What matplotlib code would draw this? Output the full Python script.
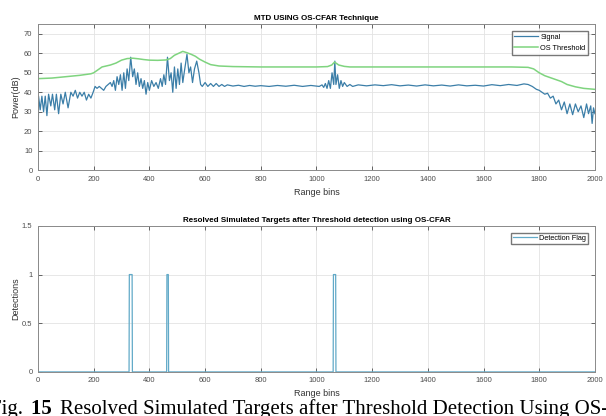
import numpy as np
import matplotlib.pyplot as plt

# (range bin, power dB) samples of the MTD output
signal_pts = [
    (0, 0), (2, 38), (8, 31), (14, 38), (20, 30), (26, 38), (32, 28), (38, 39),
    (46, 33), (52, 39), (60, 31), (66, 39), (74, 29), (82, 39), (90, 34), (98, 40),
    (108, 32), (118, 40), (126, 38), (134, 41), (142, 37), (150, 40), (158, 38),
    (166, 40), (174, 36), (182, 39), (190, 37), (198, 40), (205, 43), (212, 42),
    (220, 43), (228, 42), (236, 41), (244, 43), (252, 44), (260, 45), (266, 43),
    (272, 46), (278, 41), (284, 48), (290, 44), (296, 49), (302, 41), (308, 50),
    (314, 42), (320, 52), (326, 46), (333, 58), (340, 48), (346, 52), (352, 44),
    (358, 50), (364, 43), (370, 47), (376, 42), (382, 46), (388, 39), (394, 45),
    (400, 41), (408, 46), (416, 43), (424, 45), (432, 42), (440, 47), (446, 43),
    (452, 49), (458, 44), (465, 58), (472, 46), (478, 50), (484, 40), (490, 53),
    (496, 42), (502, 52), (508, 44), (514, 55), (520, 45), (526, 51), (535, 59.5),
    (542, 50), (548, 53), (555, 45), (562, 52), (570, 56), (578, 50), (584, 44),
    (590, 43), (600, 45), (610, 43), (620, 44.5), (630, 43), (640, 44.5), (650, 43),
    (660, 44), (670, 43), (680, 43.8), (700, 43.2), (720, 43.6), (740, 43),
    (760, 43.5), (780, 43.1), (800, 43.4), (830, 43), (860, 43.5), (890, 43.1),
    (920, 43.6), (950, 43), (980, 43.5), (1000, 43.2), (1010, 43), (1020, 43.8),
    (1026, 42.5), (1032, 44.5), (1038, 42), (1044, 46), (1050, 42), (1056, 50),
    (1062, 44), (1066, 56), (1070, 44), (1076, 49), (1082, 42), (1088, 46),
    (1094, 43), (1100, 45), (1110, 43), (1120, 44), (1130, 43), (1150, 43.8),
    (1180, 43.3), (1210, 43.8), (1240, 43.4), (1270, 43.9), (1300, 43.3),
    (1330, 43.7), (1360, 43.2), (1390, 43.8), (1420, 43.3), (1450, 43.7),
    (1480, 43.2), (1510, 43.8), (1540, 43.3), (1570, 43.6), (1600, 43.2),
    (1630, 43.9), (1660, 43.4), (1690, 44), (1720, 43.5), (1745, 44.3), (1760, 44),
    (1775, 43), (1790, 41.5), (1800, 41), (1810, 40), (1820, 39), (1830, 39.5),
    (1840, 37), (1850, 38), (1860, 34), (1870, 36), (1880, 31), (1890, 35),
    (1900, 29), (1910, 34), (1920, 28.5), (1930, 34), (1940, 30), (1950, 33),
    (1960, 27), (1970, 34), (1977, 29), (1985, 33), (1990, 24), (1995, 32),
    (2000, 29),
]

# (range bin, threshold dB) samples of the OS-CFAR threshold
threshold_pts = [
    (0, 47), (50, 47.3), (100, 48), (150, 48.7), (190, 49.5), (200, 50),
    (215, 51.5), (230, 53), (260, 54), (280, 55), (300, 56.5), (320, 57.3),
    (340, 57.5), (360, 57.2), (380, 56.8), (400, 56.5), (430, 56.4), (460, 56.6),
    (475, 57.3), (490, 59), (505, 60), (520, 61), (535, 60.3), (550, 59.5),
    (565, 58.5), (580, 57), (600, 55.5), (620, 54.2), (650, 53.5), (700, 53.2),
    (800, 53), (900, 53), (1000, 53), (1040, 53.2), (1055, 54), (1065, 55.5),
    (1080, 54), (1100, 53.3), (1120, 53), (1300, 53), (1500, 53), (1700, 53),
    (1760, 52.8), (1780, 52), (1800, 50), (1820, 48.5), (1850, 47), (1880, 45.5),
    (1900, 44), (1930, 42.8), (1960, 42), (2000, 41.5),
]

# detected target windows (start bin, end bin)
det_start = [328, 463, 1061]
det_end = [338, 468, 1069]

sig_bins, sig_db = zip(*signal_pts)
thr_bins, thr_db = zip(*threshold_pts)

bins = np.arange(0, 2001)
flag = np.zeros(bins.size)
for a, b in zip(det_start, det_end):
    flag[(bins >= a) & (bins <= b)] = 1

plt.rcParams['font.family'] = ['Liberation Sans', 'DejaVu Sans']
tick_col = '#4d4d4d'
lab_col = '#333333'

fig = plt.figure(figsize=(6.06, 4.16), dpi=100)
ax1 = fig.add_axes([0.0627, 0.591, 0.919, 0.351])
ax2 = fig.add_axes([0.0627, 0.106, 0.919, 0.351])

ax1.plot(sig_bins, sig_db, color='#3b7ea8', lw=0.9, label='Signal')
ax1.plot(thr_bins, thr_db, color='#7fd47f', lw=1.1, label='OS Threshold')
ax1.set_xlim(0, 2000)
ax1.set_ylim(0, 75)
ax1.set_yticks(range(0, 71, 10))
ax1.set_xticks(range(0, 2001, 200))
ax1.set_title('MTD USING OS-CFAR Technique', fontsize=5.8, fontweight='bold', pad=3)
ax1.set_ylabel('Power(dB)', fontsize=6.5, color=lab_col, labelpad=3)
ax1.set_xlabel('Range bins', fontsize=6.5, color=lab_col, labelpad=4)
ax1.legend(loc='upper right', fontsize=5.3, frameon=True, fancybox=False,
           edgecolor='#555555', borderpad=0.4, handlelength=3.2, labelspacing=0.5,
           handletextpad=0.3, borderaxespad=0.9)

ax2.plot(bins, flag, color='#62aac8', lw=0.9, label='Detection Flag')
ax2.set_xlim(0, 2000)
ax2.set_ylim(0, 1.5)
ax2.set_yticks([0, 0.5, 1, 1.5])
ax2.set_yticklabels(['0', '0.5', '1', '1.5'])
ax2.set_xticks(range(0, 2001, 200))
ax2.set_title('Resolved Simulated Targets after Threshold detection using OS-CFAR',
              fontsize=5.8, fontweight='bold', pad=3)
ax2.set_ylabel('Detections', fontsize=6.5, color=lab_col, labelpad=1)
ax2.set_xlabel('Range bins', fontsize=6.5, color=lab_col, labelpad=3)
ax2.legend(loc='upper right', fontsize=5.3, frameon=True, fancybox=False,
           edgecolor='#555555', borderpad=0.3, handlelength=3.2,
           handletextpad=0.3, borderaxespad=0.9)

for ax in (ax1, ax2):
    ax.grid(True, color='#e3e3e3', lw=0.6)
    ax.set_axisbelow(True)
    ax.tick_params(direction='in', top=True, right=True, labelsize=5.5,
                   colors=tick_col, length=3, width=0.6, pad=4)
    for s in ax.spines.values():
        s.set_color('#8a8a8a')
        s.set_linewidth(0.7)

# figure caption, pieces laid out one after another
renderer = fig.canvas.get_renderer()
caption = [('Fig. ', 'normal'), ('15 ', 'bold'),
           ('Resolved Simulated Targets after Threshold Detection Using OS-CFAR', 'normal')]
x = -10
for txt, weight in caption:
    t = fig.text(x / 606, 2 / 416, txt, fontsize=15, family='Liberation Serif',
                 fontweight=weight, va='baseline')
    x = t.get_window_extent(renderer).x1 + 3

fig.savefig('out.png', dpi=100)
